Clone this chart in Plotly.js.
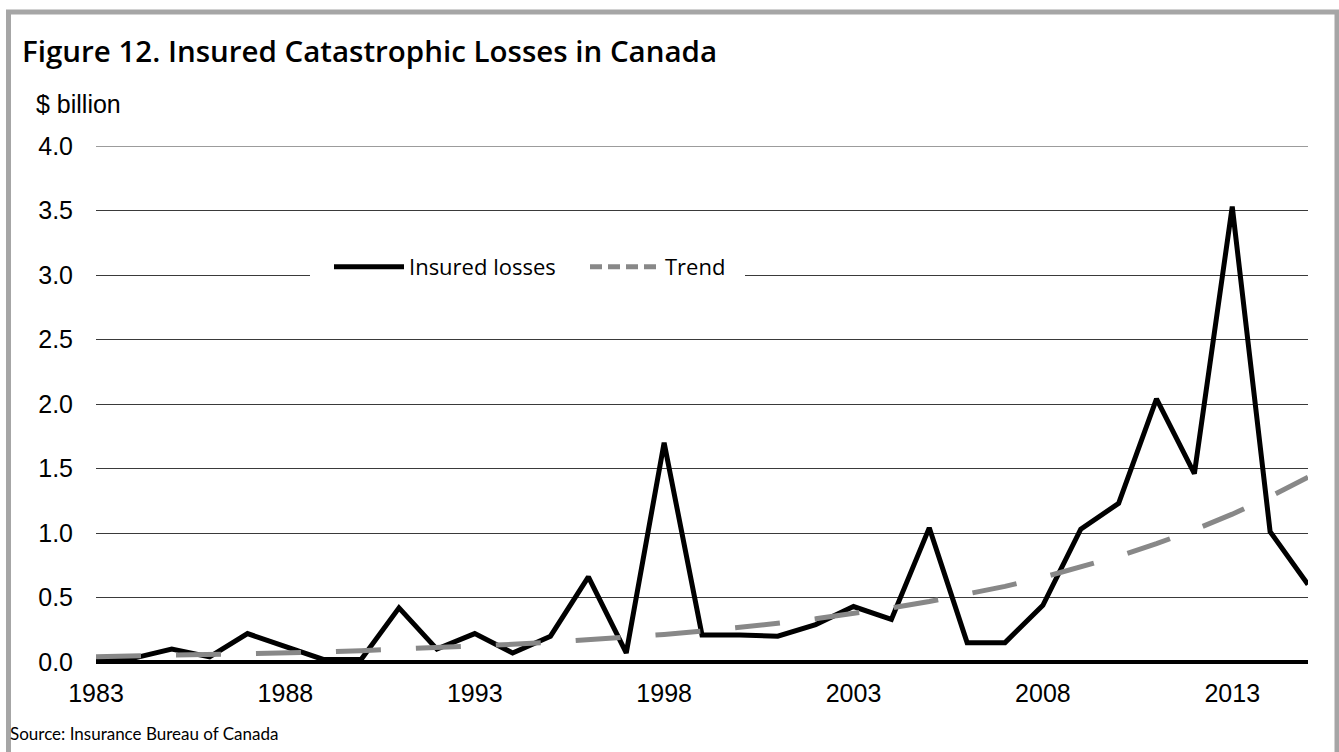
<!DOCTYPE html>
<html>
<head>
<meta charset="utf-8">
<script src="https://cdn.plot.ly/plotly-3.0.1.min.js"></script>
<style>html,body{margin:0;padding:0;background:#fff;}#chart{width:1339px;height:752px;}</style>
</head>
<body>
<div id="chart"></div>
<script>
const years = [1983,1984,1985,1986,1987,1988,1989,1990,1991,1992,1993,1994,1995,1996,1997,1998,1999,2000,2001,2002,2003,2004,2005,2006,2007,2008,2009,2010,2011,2012,2013,2014,2015];
const insuredLosses = [0.02,0.03,0.10,0.04,0.22,0.12,0.02,0.02,0.42,0.10,0.22,0.07,0.20,0.66,0.07,1.70,0.21,0.21,0.20,0.29,0.43,0.33,1.04,0.15,0.15,0.44,1.03,1.23,2.04,1.46,3.53,1.01,0.60];
const trend = [0.040,0.045,0.050,0.056,0.063,0.070,0.078,0.088,0.098,0.110,0.123,0.137,0.153,0.171,0.192,0.214,0.240,0.268,0.300,0.335,0.375,0.419,0.469,0.524,0.586,0.656,0.733,0.820,0.917,1.025,1.146,1.282,1.433];
const xTicks = [1983,1988,1993,1998,2003,2008,2013];
const yTicks = [0,0.5,1,1.5,2,2.5,3,3.5,4];
const yTickText = ['0.0','0.5','1.0','1.5','2.0','2.5','3.0','3.5','4.0'];

const L = 96, R = 31, T = 146, B = 90, W = 1339, H = 752;
const pw = W - L - R, ph = H - T - B;
const xMin = years[0], xMax = years[years.length - 1];
const yMin = 0, yMax = 4;
const px = v => (v - L) / pw;
const py = v => (H - B - v) / ph;
const dx = v => xMin + px(v) * (xMax - xMin);
const dy = v => yMin + py(v) * (yMax - yMin);

const traces = [
  {x: years, y: insuredLosses, type: 'scatter', mode: 'lines', name: 'Insured losses',
   line: {color: '#000000', width: 5}},
  {x: years, y: trend, type: 'scatter', mode: 'lines', name: 'Trend', showlegend: false,
   line: {color: '#888888', width: 5, dash: '45px,35px'}},
  {x: [null], y: [null], type: 'scatter', mode: 'lines', name: 'Trend',
   line: {color: '#888888', width: 5, dash: '12px,6px'}}
];

const layout = {
  width: W, height: H,
  margin: {l: L, r: R, t: T, b: B},
  paper_bgcolor: '#ffffff', plot_bgcolor: '#ffffff',
  showlegend: true,
  title: {text: 'Figure 12. Insured Catastrophic Losses in Canada',
    font: {family: '"Open Sans", sans-serif', size: 29.5, color: '#000', weight: 600},
    x: 22 / W, xref: 'container', xanchor: 'left',
    y: 1 - 52 / H, yref: 'container', yanchor: 'middle'},
  xaxis: {range: [xMin, xMax], tickvals: xTicks, ticktext: xTicks.map(String),
    showgrid: false, zeroline: false, showline: false, ticks: '',
    tickfont: {family: '"Liberation Sans", Arial, sans-serif', size: 25, color: '#000'},
    ticklabelstandoff: 14, fixedrange: true},
  yaxis: {range: [yMin, yMax], tickvals: yTicks, ticktext: yTickText,
    showgrid: true, gridcolor: '#3a3a3a', gridwidth: 1,
    zeroline: true, zerolinecolor: '#000', zerolinewidth: 4,
    showline: false, ticks: '',
    tickfont: {family: '"Liberation Sans", Arial, sans-serif', size: 25, color: '#000'},
    ticklabelstandoff: 22, fixedrange: true},
  legend: {orientation: 'h', x: px(329), xanchor: 'left', y: py(267), yanchor: 'middle',
    bgcolor: 'rgba(0,0,0,0)', borderwidth: 0, itemwidth: 70, entrywidth: 171,
    font: {family: '"Open Sans", sans-serif', size: 22, color: '#000'},
    traceorder: 'normal'},
  annotations: [
    {text: '$ billion', xref: 'paper', yref: 'paper', x: px(34), y: py(104),
     xanchor: 'left', yanchor: 'middle', showarrow: false,
     font: {family: '"Liberation Sans", Arial, sans-serif', size: 25, color: '#000'}},
    {text: 'Source: Insurance Bureau of Canada', xref: 'paper', yref: 'paper', x: px(8), y: py(733),
     xanchor: 'left', yanchor: 'middle', showarrow: false,
     font: {family: 'Lato, "Open Sans", sans-serif', size: 17, color: '#000'}}
  ],
  shapes: [
    {type: 'line', xref: 'paper', yref: 'y', x0: 0, x1: 1, y0: 4, y1: 4,
     line: {color: '#3a3a3a', width: 1}, layer: 'below'},
    {type: 'rect', xref: 'x', yref: 'y', x0: dx(310), x1: dx(745), y0: dy(285), y1: dy(249),
     line: {width: 0}, fillcolor: '#ffffff', layer: 'between'},
    {type: 'rect', xref: 'paper', yref: 'paper', x0: px(8.5), x1: px(1337), y0: py(770), y1: py(12),
     line: {color: '#a6a6a6', width: 5}, fillcolor: 'rgba(0,0,0,0)', layer: 'above'}
  ]
};

Plotly.newPlot('chart', traces, layout, {displayModeBar: false, staticPlot: true});
</script>
</body>
</html>
